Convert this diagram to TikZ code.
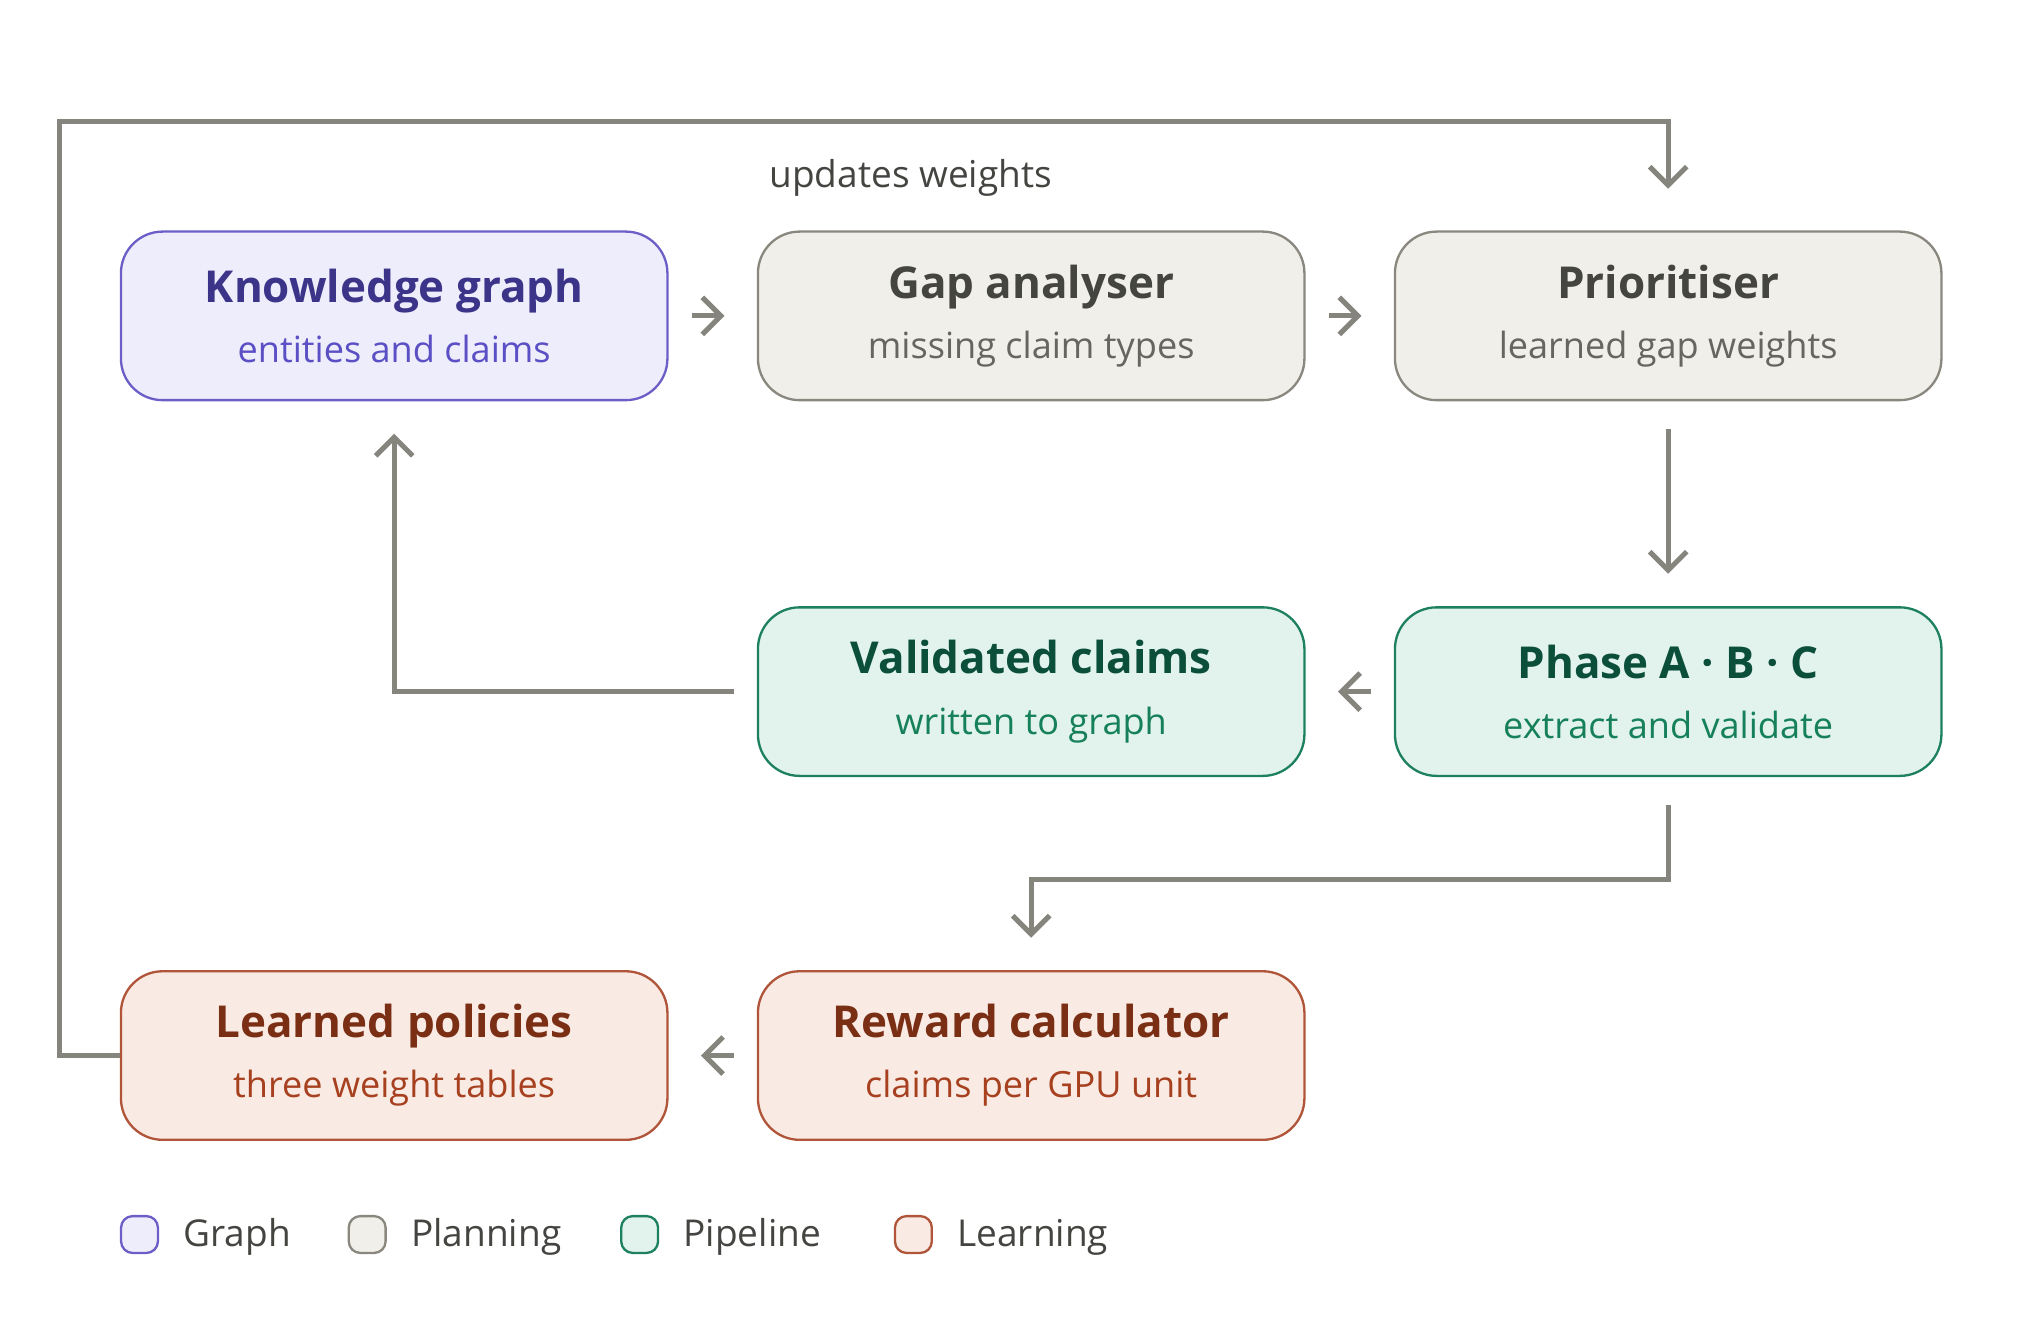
\documentclass[tikz,border=0pt]{standalone}
\usepackage{fontspec}
\setmainfont{Open Sans}
\usetikzlibrary{arrows.meta}
\definecolor{grfill}{HTML}{EEEDFB}\definecolor{grline}{HTML}{6B5FC7}
\definecolor{grtitle}{HTML}{3C3489}\definecolor{grsub}{HTML}{5A4FC4}
\definecolor{plfill}{HTML}{F1EFE9}\definecolor{plline}{HTML}{8A877F}
\definecolor{pltitle}{HTML}{444441}\definecolor{plsub}{HTML}{66655F}
\definecolor{pifill}{HTML}{E1F3EC}\definecolor{piline}{HTML}{1D8060}
\definecolor{pititle}{HTML}{0B4F3A}\definecolor{pisub}{HTML}{15805A}
\definecolor{lefill}{HTML}{F9EAE4}\definecolor{leline}{HTML}{B0553A}
\definecolor{letitle}{HTML}{7A2E14}\definecolor{lesub}{HTML}{A6401F}
\definecolor{arr}{HTML}{85857D}
\tikzset{
  box/.style={draw, rounded corners=9pt, minimum width=4.15cm, minimum height=1.28cm, align=center, line width=0.5pt},
  flow/.style={draw=arr, line width=1.1pt, -{Straight Barb[length=4pt,width=8pt]}},
  key/.style={draw, rounded corners=2.5pt, minimum size=0.28cm, inner sep=0pt, line width=0.5pt},
}
\newcommand{\boxtext}[4]{{\fontsize{9.5}{11}\selectfont\color{#1}\textbf{#2}}\\[1pt]{\fontsize{7.8}{9}\selectfont\color{#3}#4}}
\begin{document}
\begin{tikzpicture}[x=0.01cm,y=-0.01cm]
\useasboundingbox (0,0) rectangle (1550,1003);

\node[box, fill=grfill, draw=grline] (kg) at (299.5,240) {\boxtext{grtitle}{Knowledge graph}{grsub}{entities and claims}};
\node[box, fill=plfill, draw=plline] (gap) at (783.5,240) {\boxtext{pltitle}{Gap analyser}{plsub}{missing claim types}};
\node[box, fill=plfill, draw=plline] (prio) at (1267.5,240) {\boxtext{pltitle}{Prioritiser}{plsub}{learned gap weights}};

\node[box, fill=pifill, draw=piline] (valid) at (783.5,525.5) {\boxtext{pititle}{Validated claims}{pisub}{written to graph}};
\node[box, fill=pifill, draw=piline] (phase) at (1267.5,525.5) {\boxtext{pititle}{Phase A · B · C}{pisub}{extract and validate}};

\node[box, fill=lefill, draw=leline] (pol) at (299.5,802) {\boxtext{letitle}{Learned policies}{lesub}{three weight tables}};
\node[box, fill=lefill, draw=leline] (rew) at (783.5,802) {\boxtext{letitle}{Reward calculator}{lesub}{claims per GPU unit}};

\coordinate (topl) at (45,92);
\coordinate (topr) at (1267.5,92);
\node[font=\fontsize{8}{10}\selectfont, text=pltitle] (upd) at (692,135) {updates weights};

\draw[flow, shorten <=5pt, shorten >=7pt] (kg) -- (gap);
\draw[flow, shorten <=5pt, shorten >=7pt] (gap) -- (prio);
\draw[flow, shorten <=6pt, shorten >=7pt] (prio) -- (phase);
\draw[flow, shorten <=5pt, shorten >=7pt] (phase) -- (valid);
\draw[flow, shorten <=5pt, shorten >=7pt] (valid.west) -| (kg.south);
\draw[flow, shorten <=6pt, shorten >=7pt] (phase.south) |- (1000,668) -| (rew.north);
\draw[flow, shorten <=5pt, shorten >=7pt] (rew) -- (pol);
\draw[flow, shorten >=9pt] (pol.west) -| (topl) -- (topr) -- (prio.north);

\node[key, fill=grfill, draw=grline] (k1) at (106,938) {};
\node[anchor=west, font=\fontsize{8}{10}\selectfont, text=pltitle] (l1) at (127,940) {Graph};
\node[key, fill=plfill, draw=plline] (k2) at (279,938) {};
\node[anchor=west, font=\fontsize{8}{10}\selectfont, text=pltitle] (l2) at (300,940) {Planning};
\node[key, fill=pifill, draw=piline] (k3) at (486,938) {};
\node[anchor=west, font=\fontsize{8}{10}\selectfont, text=pltitle] (l3) at (507,940) {Pipeline};
\node[key, fill=lefill, draw=leline] (k4) at (694,938) {};
\node[anchor=west, font=\fontsize{8}{10}\selectfont, text=pltitle] (l4) at (715,940) {Learning};
\end{tikzpicture}
\end{document}
